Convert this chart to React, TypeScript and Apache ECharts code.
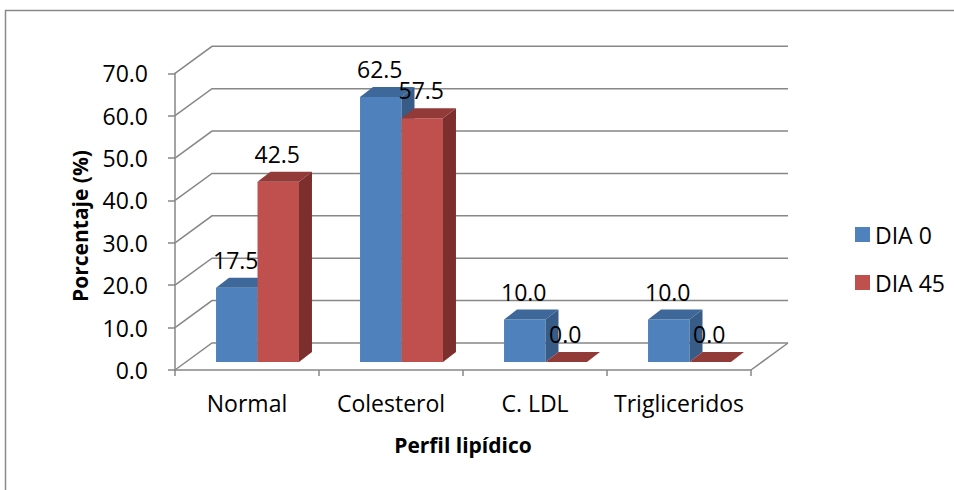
import React, { useEffect, useRef } from "react";
import * as echarts from "echarts";

const categories = ["Normal", "Colesterol", "C. LDL", "Trigliceridos"];
const dia0 = [17.5, 62.5, 10.0, 10.0];
const dia45 = [42.5, 57.5, 0.0, 0.0];
const seriesNames = ["DIA 0", "DIA 45"];
const yTicks = [0, 10, 20, 30, 40, 50, 60, 70];

const FONT = "'Open Sans', sans-serif";
const GRID_COLOR = "#878787";
const DX = 37;
const DY = -27;
const SX = 10.5;
const SY = -8;
const BDX = 13;
const BDY = -10;
const BAR_FRAC = 0.288;

const palettes = [
  { front: "#4F81BD", top: "#3D6899", side: "#375C88" },
  { front: "#C0504D", top: "#923A37", side: "#7C2F2D" },
];

function barGeom(api: any, ci: number, v: number, s: number) {
  const p = api.coord([ci, v]);
  const p0 = api.coord([ci, 0]);
  const cw = api.size([1, 0])[0];
  const bw = cw * BAR_FRAC;
  const xl = s === 0 ? p[0] - bw + SX : p[0] + SX;
  return { xl, xr: xl + bw, top: p[1] + SY, bot: p0[1] + SY, bw };
}

function makeBarRender(s: number) {
  const pal = palettes[s];
  return (params: any, api: any) => {
    const ci = api.value(0);
    const v = api.value(1);
    const g = barGeom(api, ci, v, s);
    const children: any[] = [];
    if (g.bot - g.top > 0.01) {
      children.push({
        type: "rect",
        shape: { x: g.xl, y: g.top, width: g.bw, height: g.bot - g.top },
        style: { fill: pal.front },
      });
      children.push({
        type: "polygon",
        shape: {
          points: [
            [g.xr, g.top],
            [g.xr + BDX, g.top + BDY],
            [g.xr + BDX, g.bot + BDY],
            [g.xr, g.bot],
          ],
        },
        style: { fill: pal.side },
      });
    }
    children.push({
      type: "polygon",
      shape: {
        points: [
          [g.xl, g.top],
          [g.xr, g.top],
          [g.xr + BDX, g.top + BDY],
          [g.xl + BDX, g.top + BDY],
        ],
      },
      style: { fill: pal.top },
    });
    return { type: "group", children };
  };
}

export default function App() {
  const ref = useRef<HTMLDivElement>(null);
  useEffect(() => {
    if (!ref.current) return;
    const chart = echarts.init(ref.current, null, { renderer: "svg" });

    const labelData: any[] = [];
    dia0.forEach((v, i) => labelData.push([i, v, 0]));
    dia45.forEach((v, i) => labelData.push([i, v, 1]));

    chart.setOption({
      animation: false,
      backgroundColor: "#ffffff",
      textStyle: { fontFamily: FONT },
      grid: { left: 175, top: 73.3, width: 576, height: 296.7, containLabel: false },
      legend: {
        data: seriesNames,
        orient: "vertical",
        left: 850,
        top: 218,
        itemGap: 25,
        itemWidth: 15,
        itemHeight: 15,
        icon: "rect",
        textStyle: { fontSize: 23, color: "#000", fontFamily: FONT },
      },
      xAxis: {
        type: "category",
        data: categories,
        boundaryGap: true,
        axisLine: { show: true, lineStyle: { color: GRID_COLOR, width: 1.5 } },
        axisTick: { show: true, length: 6, interval: 0, lineStyle: { color: GRID_COLOR, width: 1.5 } },
        axisLabel: { fontSize: 23, color: "#000", margin: 21, fontFamily: FONT, interval: 0 },
        splitLine: { show: false },
      },
      yAxis: {
        type: "value",
        min: 0,
        max: 70,
        interval: 10,
        axisLine: { show: true, lineStyle: { color: GRID_COLOR, width: 1.5 } },
        axisTick: { show: true, length: 7, lineStyle: { color: GRID_COLOR, width: 1.5 } },
        axisLabel: {
          fontSize: 23,
          color: "#000",
          margin: 27,
          fontFamily: FONT,
          formatter: (v: number) => v.toFixed(1),
        },
        splitLine: { show: false },
      },
      graphic: [
        {
          type: "rect",
          shape: { x: 5.5, y: 10.5, width: 1000, height: 600 },
          style: { fill: "none", stroke: "#8a8a8a", lineWidth: 1.5 },
          silent: true,
        },
        {
          type: "text",
          x: 80,
          y: 226,
          rotation: Math.PI / 2,
          style: {
            text: "Porcentaje (%)",
            fontSize: 21,
            fontWeight: "bold",
            fontFamily: FONT,
            fill: "#000",
            align: "center",
            verticalAlign: "middle",
          },
        },
        {
          type: "text",
          x: 463,
          y: 445,
          style: {
            text: "Perfil lipídico",
            fontSize: 21,
            fontWeight: "bold",
            fontFamily: FONT,
            fill: "#000",
            align: "center",
            verticalAlign: "middle",
          },
        },
      ],
      series: [
        {
          name: "walls",
          type: "custom",
          z: 1,
          silent: true,
          data: yTicks.map((v) => [0, v]),
          encode: { x: 0, y: 1 },
          renderItem: (params: any, api: any) => {
            const v = api.value(1);
            const y = api.coord([0, v])[1];
            const cs = params.coordSys;
            const x0 = cs.x;
            const x1 = cs.x + cs.width;
            const children: any[] = [
              {
                type: "polyline",
                shape: {
                  points: [
                    [x0, y],
                    [x0 + DX, y + DY],
                    [x1 + DX, y + DY],
                  ],
                },
                style: { stroke: GRID_COLOR, lineWidth: 1.5, fill: "none" },
              },
            ];
            if (v === 0) {
              children.push({
                type: "line",
                shape: { x1: x1, y1: y, x2: x1 + DX, y2: y + DY },
                style: { stroke: GRID_COLOR, lineWidth: 1.5 },
              });
            }
            return { type: "group", children };
          },
        },
        {
          name: seriesNames[0],
          type: "custom",
          z: 2,
          itemStyle: { color: palettes[0].front },
          data: dia0.map((v, i) => [i, v]),
          encode: { x: 0, y: 1 },
          renderItem: makeBarRender(0),
        },
        {
          name: seriesNames[1],
          type: "custom",
          z: 3,
          itemStyle: { color: palettes[1].front },
          data: dia45.map((v, i) => [i, v]),
          encode: { x: 0, y: 1 },
          renderItem: makeBarRender(1),
        },
        {
          name: "labels",
          type: "custom",
          z: 5,
          silent: true,
          data: labelData,
          encode: { x: 0, y: 1 },
          renderItem: (params: any, api: any) => {
            const ci = api.value(0);
            const v = api.value(1);
            const s = api.value(2);
            const g = barGeom(api, ci, v, s);
            return {
              type: "text",
              x: (g.xl + g.xr) / 2 - 1,
              y: g.top - 28,
              style: {
                text: Number(v).toFixed(1),
                fontSize: 23,
                fontFamily: FONT,
                fill: "#000",
                align: "center",
                verticalAlign: "middle",
              },
            };
          },
        },
      ],
    });
    return () => chart.dispose();
  }, []);
  return (
    <div
      ref={ref}
      style={{ position: "fixed", left: 0, top: 0, width: 954, height: 490, background: "#fff" }}
    />
  );
}
